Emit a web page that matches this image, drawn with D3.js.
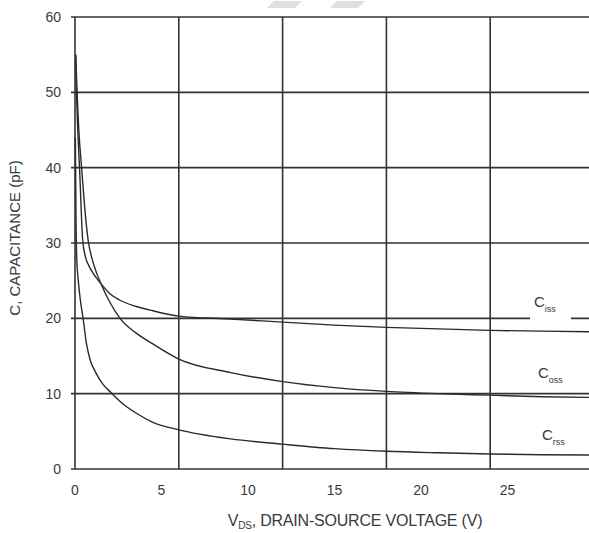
<!DOCTYPE html>
<html>
<head>
<meta charset="utf-8">
<script src="https://cdn.jsdelivr.net/npm/d3@7"></script>
<style>
    body { margin: 0; background: #fff; }
    #chart { width: 589px; height: 533px; overflow: hidden; }
    text { font-family: "Liberation Sans", Arial, sans-serif; fill: #3a3a3a; }
</style>
</head>
<body>
<div id="chart"></div>
<script>

// tick values
var xLabels = [0, 5, 10, 15, 20, 25];
var xGrid = [6, 12, 18, 24];
var yTicks = [0, 10, 20, 30, 40, 50, 60];

// curves: [VDS, C]
var ciss = [[0.04,55],[0.1,49],[0.18,44],[0.28,39],[0.44,30.5],[0.6,28.2],[0.8,27.0],[1.1,25.8],[1.5,24.6],
    [2.0,23.3],[2.6,22.4],[3.5,21.6],[4.5,21.0],[6,20.3],[9,19.9],[12,19.5],[15,19.1],[18,18.8],[21,18.6],[24,18.4],[27,18.3],[30,18.2]];
var coss = [[0.04,55],[0.12,50],[0.22,45],[0.38,40],[0.55,35],[0.77,30.2],[1.0,27.8],[1.25,26.0],[1.5,24.6],
    [2.0,22.2],[2.6,20.0],[3.5,18.1],[4.5,16.6],[6,14.6],[9,12.8],[12,11.6],[15,10.8],[18,10.3],[21,10.0],[24,9.8],[27,9.6],[30,9.5]];
var crss = [[0.02,44],[0.06,33],[0.1,28],[0.19,25],[0.3,22.6],[0.48,19.8],[0.65,16.8],[0.86,14.6],[1.2,12.8],[1.6,11.3],
    [2.1,10.1],[2.8,8.6],[3.55,7.4],[4.5,6.2],[6,5.2],[9,4.0],[12,3.3],[15,2.7],[18,2.35],[21,2.15],[24,2.0],[27,1.9],[30,1.85]];

var series = [
    {name: "C", sub: "iss", data: ciss, lx: 534, ly: 307},
    {name: "C", sub: "oss", data: coss, lx: 538, ly: 378},
    {name: "C", sub: "rss", data: crss, lx: 542, ly: 440}
];

var width = 589, height = 533;
var svg = d3.select("#chart")
    .append("svg")
    .attr("width", width)
    .attr("height", height);

var x = d3.scaleLinear().domain([0, 30]).range([75, 594]);
var y = d3.scaleLinear().domain([0, 60]).range([469, 17]);

// faint watermark at the top
svg.selectAll(".wm")
    .data([267, 330])
    .enter()
    .append("polygon")
    .attr("points", function(d){ return (d+7)+",1 "+(d+35)+",1 "+(d+28)+",8 "+d+",8"; })
    .attr("fill", "#e0e0e0");

// horizontal grid
svg.selectAll(".hgrid")
    .data(yTicks)
    .enter()
    .append("line")
    .attr("x1", 71)
    .attr("x2", width + 10)
    .attr("y1", function(d){ return y(d); })
    .attr("y2", function(d){ return y(d); })
    .attr("stroke", "#333")
    .attr("stroke-width", 1.6);

// vertical grid
svg.selectAll(".vgrid")
    .data(xGrid)
    .enter()
    .append("line")
    .attr("x1", function(d){ return x(d); })
    .attr("x2", function(d){ return x(d); })
    .attr("y1", y(60))
    .attr("y2", y(0))
    .attr("stroke", "#333")
    .attr("stroke-width", 1.6);

// left axis
svg.append("line")
    .attr("x1", x(0)).attr("x2", x(0))
    .attr("y1", y(60)).attr("y2", y(0))
    .attr("stroke", "#333")
    .attr("stroke-width", 1.6);

var line = d3.line()
    .x(function(d){ return x(d[0]); })
    .y(function(d){ return y(d[1]); })
    .curve(d3.curveMonotoneX);

svg.selectAll(".curve")
    .data(series)
    .enter()
    .append("path")
    .attr("d", function(d){ return line(d.data); })
    .attr("fill", "none")
    .attr("stroke", "#2a2a2a")
    .attr("stroke-width", 1.4);

// curve labels, with a white patch behind Ciss over the grid line
svg.append("rect")
    .attr("x", 530).attr("y", 308)
    .attr("width", 41).attr("height", 12)
    .attr("fill", "#fff");

var labels = svg.selectAll(".clabel")
    .data(series)
    .enter()
    .append("text")
    .attr("x", function(d){ return d.lx; })
    .attr("y", function(d){ return d.ly; })
    .attr("font-size", "15px");
labels.append("tspan").text(function(d){ return d.name; });
labels.append("tspan")
    .attr("dy", 5)
    .attr("font-size", "9px")
    .text(function(d){ return d.sub; });

// tick labels
svg.selectAll(".ylab")
    .data(yTicks)
    .enter()
    .append("text")
    .attr("x", 61)
    .attr("y", function(d){ return y(d); })
    .attr("dy", "0.35em")
    .attr("text-anchor", "end")
    .attr("font-size", "14px")
    .text(function(d){ return d; });

svg.selectAll(".xlab")
    .data(xLabels)
    .enter()
    .append("text")
    .attr("x", function(d){ return x(d); })
    .attr("y", 490)
    .attr("dy", "0.35em")
    .attr("text-anchor", "middle")
    .attr("font-size", "14px")
    .text(function(d){ return d; });

// axis titles
var xt = svg.append("text")
    .attr("x", 355)
    .attr("y", 526)
    .attr("text-anchor", "middle")
    .attr("font-size", "16px")
    .attr("letter-spacing", "-0.2px");
xt.append("tspan").text("V");
xt.append("tspan").attr("dy", 3).attr("font-size", "10px").text("DS");
xt.append("tspan").attr("dy", -3).text(", DRAIN-SOURCE VOLTAGE (V)");

svg.append("text")
    .attr("transform", "translate(20,238) rotate(-90)")
    .attr("text-anchor", "middle")
    .attr("font-size", "15px")
    .text("C, CAPACITANCE (pF)");

</script>
</body>
</html>
